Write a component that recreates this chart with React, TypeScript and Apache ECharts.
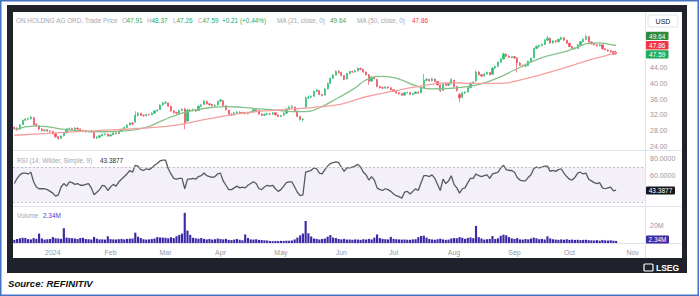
import React, { useEffect, useRef } from 'react';
import * as echarts from 'echarts';

// Category slots (trading days) per month label; last months include empty future slots
const monthLabels = ['Dec', '2024', 'Feb', 'Mar', 'Apr', 'May', 'Jun', 'Jul', 'Aug', 'Sep', 'Oct', 'Nov'];
const monthSlots = [14, 21, 20, 20, 22, 22, 19, 22, 22, 20, 23, 5];

const opens = [
  28.8, 28.6, 28.3, 29.5, 30.6, 30.9, 31.0, 31.3, 29.6, 29.2,
  28.4, 28.0, 28.2, 27.9, 27.8, 27.2, 26.4, 26.0, 26.7, 27.4,
  28.3, 28.5, 28.3, 28.6, 28.4, 28.0, 27.9, 27.7, 27.8, 27.6,
  26.1, 26.3, 26.7, 27.0, 27.1, 26.6, 26.9, 27.4, 27.2, 27.8,
  28.3, 28.8, 29.4, 29.9, 30.2, 31.9, 32.4, 31.9, 31.8, 32.1,
  32.0, 32.4, 33.0, 33.3, 34.5, 35.0, 35.0, 34.2, 33.0, 32.6,
  32.4, 33.1, 33.5, 30.4, 33.2, 33.1, 33.3, 33.1, 34.2, 34.6,
  35.4, 34.8, 34.6, 34.3, 34.5, 35.5, 35.6, 34.3, 33.2, 32.1,
  32.0, 32.5, 32.7, 32.4, 32.6, 32.3, 32.6, 32.8, 33.3, 33.1,
  32.2, 31.9, 32.1, 32.3, 32.2, 32.5, 32.0, 31.6, 31.9, 32.4,
  33.5, 33.9, 34.0, 33.0, 31.6, 30.8, 34.0, 36.3, 36.5, 36.7,
  38.0, 38.2, 37.2, 37.0, 38.6, 40.0, 41.3, 42.1, 43.0, 42.8,
  42.0, 41.1, 42.5, 43.0, 42.9, 43.2, 43.8, 43.6, 42.9, 42.2,
  40.6, 41.6, 41.0, 39.2, 38.9, 38.8, 39.1, 38.9, 38.4, 38.0,
  37.6, 37.4, 37.0, 37.6, 37.7, 37.2, 37.4, 37.8, 37.6, 38.9,
  40.8, 41.0, 40.7, 41.1, 40.5, 39.6, 38.2, 39.9, 39.5, 39.9,
  40.8, 39.2, 37.2, 36.5, 37.6, 37.8, 38.9, 40.1, 40.6, 42.9,
  42.2, 41.9, 42.4, 42.8, 42.3, 43.9, 44.3, 45.4, 46.2, 47.4,
  46.9, 46.6, 46.8, 46.5, 45.2, 44.6, 44.4, 44.5, 45.6, 46.5,
  48.9, 49.4, 49.6, 49.9, 51.0, 51.5, 50.3, 50.8, 50.6, 51.2,
  51.6, 51.0, 50.2, 49.4, 48.8, 48.9, 49.8, 50.6, 51.2, 51.9,
  50.5, 50.1, 49.8, 49.6, 49.8, 48.8, 48.5, 48.3, 48.1, 47.91,
];

const closes = [
  28.5, 28.2, 29.4, 30.6, 30.9, 31.0, 31.4, 29.5, 29.3, 28.4,
  28.0, 28.1, 27.9, 27.8, 27.2, 26.4, 25.9, 26.6, 27.4, 28.4,
  28.5, 28.3, 28.6, 28.4, 28.0, 27.9, 27.7, 27.8, 27.6, 26.1,
  26.3, 26.7, 27.0, 27.1, 26.6, 26.9, 27.4, 27.2, 27.8, 28.3,
  28.8, 29.4, 29.9, 29.7, 31.9, 32.4, 31.9, 31.8, 32.1, 32.0,
  32.4, 33.0, 33.2, 34.5, 35.0, 35.1, 34.2, 33.0, 32.6, 32.4,
  33.1, 33.4, 30.0, 33.2, 33.1, 33.3, 33.0, 34.2, 34.5, 35.5,
  34.8, 34.6, 34.3, 34.4, 35.4, 35.8, 34.4, 33.3, 32.1, 32.0,
  32.5, 32.7, 32.4, 32.6, 32.3, 32.6, 32.8, 33.3, 33.1, 32.2,
  31.9, 32.1, 32.3, 32.2, 32.5, 32.0, 31.6, 31.8, 32.4, 33.5,
  33.9, 34.1, 33.0, 31.6, 30.8, 30.9, 36.3, 36.5, 36.6, 38.0,
  38.3, 37.2, 36.9, 38.6, 40.0, 41.3, 42.1, 43.0, 42.8, 42.0,
  41.0, 42.5, 43.0, 42.9, 43.2, 43.8, 43.6, 42.9, 42.2, 40.5,
  41.6, 41.2, 39.2, 38.9, 38.8, 39.1, 38.9, 38.4, 38.0, 37.6,
  37.4, 37.0, 37.6, 37.7, 37.2, 37.4, 37.8, 37.6, 38.8, 40.8,
  41.0, 40.7, 41.1, 40.5, 39.6, 38.1, 39.9, 39.5, 39.9, 41.0,
  39.2, 38.2, 36.3, 37.6, 37.8, 38.9, 40.1, 40.3, 42.9, 42.2,
  41.9, 42.4, 42.8, 42.2, 43.9, 44.3, 45.4, 46.2, 47.5, 46.9,
  46.6, 46.8, 46.5, 45.2, 44.6, 44.4, 44.5, 45.6, 46.4, 48.9,
  49.4, 49.6, 49.9, 51.0, 51.5, 50.3, 50.8, 50.6, 51.2, 51.6,
  51.0, 50.2, 49.4, 48.8, 48.9, 49.8, 50.6, 51.2, 51.9, 50.5,
  50.1, 49.8, 49.6, 49.8, 48.8, 48.5, 48.3, 48.1, 47.38, 47.59,
];

const lows = [
  28.3, 28.0, 28.2, 29.4, 30.4, 30.6, 30.8, 29.3, 29.0, 28.1,
  27.8, 27.7, 27.7, 27.5, 27.0, 26.2, 25.7, 25.9, 26.5, 27.3,
  28.0, 28.0, 28.1, 28.2, 27.8, 27.6, 27.5, 27.5, 27.4, 25.9,
  25.9, 26.2, 26.5, 26.8, 26.4, 26.5, 26.8, 27.0, 27.1, 27.7,
  28.2, 28.7, 29.3, 29.3, 30.0, 31.6, 31.7, 31.5, 31.6, 31.8,
  31.9, 32.3, 32.8, 33.2, 34.3, 34.7, 34.0, 32.8, 32.3, 32.1,
  32.3, 32.9, 28.3, 30.2, 32.8, 32.9, 32.7, 33.0, 34.0, 34.5,
  34.6, 34.3, 34.1, 34.0, 34.4, 35.2, 34.2, 33.1, 31.9, 31.7,
  31.8, 32.3, 32.2, 32.2, 32.1, 32.1, 32.4, 32.7, 32.8, 32.0,
  31.7, 31.7, 31.9, 31.9, 32.0, 31.8, 31.4, 31.4, 31.8, 32.3,
  33.3, 33.6, 32.8, 31.4, 30.5, 30.3, 33.7, 36.0, 36.2, 36.6,
  37.8, 37.0, 36.7, 36.9, 38.5, 39.9, 41.1, 42.0, 42.5, 41.8,
  40.8, 41.0, 42.3, 42.6, 42.7, 43.0, 43.3, 42.7, 42.0, 39.6,
  40.4, 41.0, 39.0, 38.7, 38.5, 38.6, 38.6, 38.2, 37.8, 37.4,
  37.1, 36.8, 36.9, 37.4, 37.0, 37.0, 37.3, 37.4, 37.5, 38.8,
  40.5, 40.4, 40.5, 40.3, 39.4, 37.8, 38.1, 39.3, 39.3, 39.8,
  39.0, 37.9, 35.3, 36.3, 37.3, 37.7, 38.8, 39.9, 40.4, 42.0,
  41.6, 41.7, 42.2, 42.0, 42.2, 43.7, 44.2, 45.2, 46.1, 46.6,
  46.4, 46.4, 46.2, 42.8, 44.4, 44.1, 44.1, 44.4, 45.4, 46.4,
  48.7, 49.1, 49.4, 49.8, 50.8, 50.1, 50.1, 50.3, 50.5, 51.0,
  50.8, 50.0, 49.2, 48.6, 48.5, 48.8, 49.7, 50.4, 51.0, 50.3,
  49.9, 49.6, 49.4, 49.4, 48.6, 48.3, 48.0, 47.8, 47.2, 47.26,
];

const highs = [
  29.0, 28.8, 29.6, 30.8, 31.2, 31.3, 31.7, 31.4, 29.9, 29.3,
  28.6, 28.4, 28.4, 28.1, 27.9, 27.3, 26.5, 26.8, 27.6, 28.6,
  28.8, 28.7, 28.9, 28.8, 28.5, 28.2, 28.1, 28.0, 28.0, 27.7,
  26.6, 26.9, 27.2, 27.3, 27.2, 27.1, 27.6, 27.6, 28.0, 28.5,
  29.0, 29.6, 30.1, 30.2, 32.9, 32.7, 32.5, 32.1, 32.3, 32.3,
  32.7, 33.2, 33.5, 34.7, 35.3, 35.5, 35.1, 34.3, 33.2, 32.8,
  33.3, 33.7, 33.8, 33.6, 33.5, 33.6, 33.5, 34.4, 34.8, 35.8,
  35.6, 35.0, 34.8, 34.7, 35.6, 36.1, 35.7, 34.4, 33.3, 32.4,
  32.7, 33.0, 32.9, 32.8, 32.8, 32.8, 33.0, 33.6, 33.5, 33.2,
  32.4, 32.4, 32.5, 32.5, 32.7, 32.6, 32.1, 32.0, 32.6, 33.7,
  34.3, 34.5, 34.1, 33.1, 31.7, 31.2, 36.6, 36.9, 37.0, 38.2,
  38.6, 38.3, 37.4, 38.8, 40.2, 41.5, 42.4, 43.3, 43.4, 42.9,
  42.1, 42.7, 43.2, 43.3, 43.5, 44.1, 44.0, 43.7, 43.0, 42.3,
  41.8, 41.8, 41.1, 39.4, 39.2, 39.3, 39.3, 39.0, 38.5, 38.1,
  37.8, 37.5, 37.8, 37.9, 37.8, 37.6, 38.0, 38.0, 39.0, 42.4,
  41.4, 41.2, 41.4, 41.2, 40.6, 39.7, 40.1, 40.1, 40.1, 41.3,
  40.9, 39.3, 37.6, 37.9, 38.0, 39.1, 40.3, 40.6, 43.3, 43.1,
  42.4, 42.6, 43.0, 42.9, 44.1, 44.6, 45.6, 46.5, 47.8, 47.6,
  47.1, 47.0, 47.0, 46.6, 45.4, 44.8, 44.8, 45.8, 46.6, 49.1,
  49.7, 49.9, 50.2, 51.3, 52.1, 51.6, 51.0, 51.0, 51.4, 51.9,
  51.8, 51.1, 50.3, 49.5, 49.2, 50.0, 50.8, 51.5, 52.4, 52.0,
  50.7, 50.3, 50.0, 50.1, 49.9, 49.0, 48.7, 48.5, 48.3, 48.37,
];

// Moving averages at sparse trading-day indices
const ma21Idx = [0, 8, 18, 24, 33, 40, 48, 54, 60, 65, 71, 77, 83, 89, 95, 101, 106, 111, 118, 123, 129, 134, 140, 146, 152, 158, 164, 170, 176, 182, 188, 194, 200, 205, 209, 213, 216, 219];
const ma21Val = [28.3, 29.2, 28.3, 27.9, 27.7, 27.9, 28.8, 30.6, 32.2, 33.1, 33.8, 34.1, 33.9, 33.5, 33.2, 32.8, 32.8, 33.8, 36.4, 38.4, 41.2, 41.8, 41.1, 39.4, 38.6, 38.7, 39.1, 39.9, 41.4, 43.4, 45.4, 47.0, 48.0, 49.2, 50.2, 50.3, 50.0, 49.64];
const ma50Idx = [0, 12, 30, 42, 54, 60, 70, 82, 95, 106, 118, 122, 128, 140, 147, 153, 159, 165, 171, 177, 185, 192, 198, 204, 210, 215, 219];
const ma50Val = [26.8, 27.3, 28.0, 28.4, 29.0, 29.5, 30.9, 32.3, 33.2, 33.7, 34.6, 35.3, 36.6, 38.3, 39.2, 39.9, 40.2, 40.0, 40.0, 40.0, 41.0, 42.3, 43.5, 44.8, 46.1, 47.0, 47.86];

const rsi = [
  51, 57, 61, 63, 63, 62, 64, 53, 47, 45,
  45, 45, 44, 42, 40, 36.5, 38, 47, 51, 48,
  53, 52, 50, 51, 49, 49, 50, 51, 46, 38,
  41, 44, 49, 48, 43, 47, 50, 48, 53, 56,
  59, 62, 66, 64, 72, 71, 67, 66, 68, 67,
  69, 72, 74, 77, 78, 78, 68, 62, 57, 56,
  57, 57, 45, 56, 56, 57, 56, 59, 60, 63,
  60, 59, 58, 59, 62, 63, 54, 49, 44, 44,
  46, 48, 46, 47, 46, 49, 51, 53, 51, 45,
  44, 47, 49, 48, 49, 45, 42, 44, 48, 52,
  53, 53, 47, 41, 37, 38, 64, 65, 66, 69,
  68, 63, 62, 67, 71, 74, 75, 76, 75, 70,
  65, 69, 69, 70, 71, 73, 70, 64, 61, 55,
  59, 55, 46, 44, 43, 45, 44, 42, 39, 37,
  36, 34, 41, 42, 39, 42, 45, 43, 52, 60,
  60, 59, 61, 57, 50, 43, 56, 51, 54, 60,
  50, 46, 40, 45, 46, 52, 57, 57, 62, 60,
  59, 60, 61, 57, 62, 63, 64, 69, 72, 67,
  66, 66, 64, 58, 55, 54, 54, 58, 61, 68,
  70, 69, 70, 71, 71, 65, 66, 65, 67, 68,
  63, 59, 56, 55, 58, 63, 64, 62, 63, 56,
  54, 52, 51, 52, 46, 45, 46, 47, 42.5, 43.3877,
];

// Volume in millions
const volumes = [
  3.5, 4.5, 5.2, 5.8, 5.5, 4.3, 4.0, 5.5, 4.6, 10.5,
  5.0, 3.8, 4.2, 4.5, 6.5, 5.3, 5.0, 4.6, 16.5, 6.0,
  5.5, 5.3, 5.0, 4.5, 5.6, 5.8, 4.4, 4.2, 3.9, 6.8,
  4.8, 4.0, 4.1, 3.8, 7.5, 4.3, 4.0, 3.9, 4.2, 4.6,
  4.0, 4.5, 4.8, 5.0, 11.5, 7.0, 5.5, 4.2, 3.8, 4.0,
  4.4, 5.0, 6.5, 6.2, 6.0, 5.8, 5.2, 6.4, 5.5, 7.5,
  9.0, 10.5, 33.5, 13.8, 9.0, 5.8, 5.2, 4.8, 5.5, 4.6,
  4.0, 4.5, 3.8, 4.2, 5.0, 4.4, 4.0, 4.6, 3.5, 3.2,
  3.8, 4.4, 3.6, 3.0, 9.5, 5.5, 4.0, 3.8, 4.2, 3.5,
  3.3, 3.0, 2.8, 2.2, 2.0, 2.3, 2.1, 2.4, 2.2, 2.6,
  2.5, 2.8, 4.0, 6.0, 8.5, 10.5, 24.5, 10.8, 7.2, 5.0,
  4.6, 3.9, 4.5, 5.0, 7.0, 8.8, 6.0, 5.5, 4.5, 4.0,
  4.6, 3.8, 3.9, 3.6, 4.0, 3.8, 3.5, 4.2, 3.8, 4.6,
  4.0, 6.0, 9.5, 5.5, 4.6, 4.2, 4.0, 6.8, 4.5, 4.2,
  4.0, 3.8, 3.9, 3.7, 3.5, 4.0, 4.2, 6.5, 7.8, 8.2,
  6.0, 4.4, 3.9, 3.6, 4.2, 4.8, 4.0, 3.5, 3.8, 5.0,
  5.5, 5.2, 6.5, 5.8, 4.6, 5.6, 6.2, 5.4, 19.0, 6.5,
  5.0, 3.8, 4.2, 4.5, 7.8, 4.5, 5.2, 8.0, 9.3, 8.6,
  6.5, 5.2, 4.6, 5.5, 4.0, 3.8, 4.4, 4.0, 5.0, 6.0,
  5.2, 4.2, 4.6, 3.9, 7.5, 5.0, 4.2, 3.8, 3.5, 4.0,
  3.6, 4.2, 3.5, 3.8, 3.4, 3.6, 3.2, 3.5, 3.6, 3.2,
  3.0, 2.8, 3.2, 2.6, 3.4, 2.9, 2.7, 3.0, 2.6, 2.34,
];

const priceTicksShown = [24, 28, 32, 36, 40, 44];
const rsiTicksShown = [60, 80];
const volTicksShown = [20];

const FONT = '"Liberation Sans", Arial, sans-serif';
const GRAY = '#a3a6af';
const UP = '#2ebd73';
const DOWN = '#f04e5e';
const GREEN_TXT = '#22ab5c';
const VOL = '#3b2aa5';
const HDR = 6.4;

function buildOption() {
  const categories: string[] = [];
  monthLabels.forEach((m, i) => {
    for (let d = 0; d < monthSlots[i]; d++) categories.push(m + '|' + d);
  });
  const candleData = opens.map((o, i) => [o, closes[i], lows[i], highs[i]]);
  const ma21Data = ma21Idx.map((x, i) => [x, ma21Val[i]]);
  const ma50Data = ma50Idx.map((x, i) => [x, ma50Val[i]]);

  const t = (x: number, y: number, text: string, fill: string, extra: any = {}) => ({
    type: 'text', x, y, z: 60,
    style: { text, fill, fontSize: HDR, fontFamily: FONT, verticalAlign: 'middle', align: 'left', ...extra },
  });
  const tag = (x: number, y: number, w: number, h: number, fill: string, text: string) => ({
    type: 'group', z: 70,
    children: [
      { type: 'rect', z: 70, shape: { x, y, width: w, height: h, r: 1 }, style: { fill } },
      { type: 'text', z: 71, x: x + w / 2, y: y + h / 2 + 0.3, style: { text, fill: '#ffffff', fontSize: 6.5, fontFamily: FONT, align: 'center', verticalAlign: 'middle' } },
    ],
  });
  const hline = (y: number, x1: number, x2: number) => ({
    type: 'line', z: 1, shape: { x1, y1: y, x2, y2: y }, style: { stroke: '#e0e3eb', lineWidth: 1 },
  });

  const xAxisBase = (i: number) => ({
    type: 'category', gridIndex: i, data: categories, boundaryGap: true,
    axisLine: { show: false }, axisTick: { show: false }, splitLine: { show: false },
    axisLabel: i === 2 ? {
      show: true, color: '#9598a1', fontSize: 7, fontFamily: FONT, margin: 6,
      interval: (idx: number, val: string) => {
        const p = String(val).split('|');
        return p[1] === '0' && p[0] !== 'Dec';
      },
      formatter: (val: string) => String(val).split('|')[0],
    } : { show: false },
  });
  const yLabel = (shown: number[], fmt: (v: number) => string) => ({
    show: true, color: '#9598a1', fontSize: 7, fontFamily: FONT, margin: 5,
    formatter: (v: number) => (shown.indexOf(Math.round(v * 100) / 100) >= 0 ? fmt(v) : ''),
  });

  return {
    animation: false,
    backgroundColor: '#ffffff',
    textStyle: { fontFamily: FONT },
    grid: [
      { left: 13, top: 12, width: 632, height: 150 },
      { left: 13, top: 151, width: 632, height: 59.5 },
      { left: 13, top: 207, width: 632, height: 36 },
    ],
    xAxis: [xAxisBase(0), xAxisBase(1), xAxisBase(2)],
    yAxis: [
      { type: 'value', gridIndex: 0, position: 'right', min: 20, max: 58.16, interval: 4, axisLine: { show: false }, axisTick: { show: false }, splitLine: { show: false }, axisLabel: yLabel(priceTicksShown, (v) => v.toFixed(2)) },
      { type: 'value', gridIndex: 1, position: 'right', min: 20, max: 88.4, interval: 20, axisLine: { show: false }, axisTick: { show: false }, splitLine: { show: false }, axisLabel: yLabel(rsiTicksShown, (v) => v.toFixed(4)) },
      { type: 'value', gridIndex: 2, position: 'right', min: 0, max: 40, interval: 20, axisLine: { show: false }, axisTick: { show: false }, splitLine: { show: false }, axisLabel: yLabel(volTicksShown, (v) => v + 'M') },
    ],
    series: [
      {
        type: 'candlestick', name: 'Price', xAxisIndex: 0, yAxisIndex: 0, data: candleData,
        barWidth: 1.7, z: 3,
        itemStyle: { color: UP, color0: DOWN, borderColor: UP, borderColor0: DOWN, borderWidth: 0.7 },
      },
      {
        type: 'line', name: 'MA21', xAxisIndex: 0, yAxisIndex: 0, data: ma21Data, smooth: 0.5,
        symbol: 'none', z: 4, lineStyle: { color: '#86c08a', width: 1.3 },
      },
      {
        type: 'line', name: 'MA50', xAxisIndex: 0, yAxisIndex: 0, data: ma50Data, smooth: 0.5,
        symbol: 'none', z: 4, lineStyle: { color: '#f5a0a0', width: 1.3 },
      },
      {
        type: 'line', name: 'RSI', xAxisIndex: 1, yAxisIndex: 1, data: rsi, symbol: 'none', z: 4,
        lineStyle: { color: '#5a5a5e', width: 1.3 },
        markArea: { silent: true, itemStyle: { color: 'rgba(126,87,194,0.09)' }, data: [[{ yAxis: 30 }, { yAxis: 70 }]] },
        markLine: {
          silent: true, symbol: 'none', label: { show: false },
          lineStyle: { type: [2, 2], color: '#b5b5bd', width: 0.8 },
          data: [{ yAxis: 70 }, { yAxis: 30 }],
        },
      },
      {
        type: 'bar', name: 'Volume', xAxisIndex: 2, yAxisIndex: 2, data: volumes, barWidth: '78%', z: 3,
        itemStyle: { color: VOL },
      },
    ],
    graphic: [
      { type: 'rect', z: -20, shape: { x: 0.75, y: 0.75, width: 697.5, height: 294.5 }, style: { fill: '#ffffff', stroke: '#4472c4', lineWidth: 1.5 } },
      { type: 'rect', z: -19, shape: { x: 7, y: 5, width: 680, height: 268 }, style: { fill: '#1f222b' } },
      { type: 'rect', z: -18, shape: { x: 13, y: 12, width: 669, height: 246 }, style: { fill: '#ffffff' } },
      { type: 'line', z: 1, shape: { x1: 645.5, y1: 12, x2: 645.5, y2: 258 }, style: { stroke: '#e0e3eb', lineWidth: 1 } },
      hline(150.5, 13, 682),
      hline(206.5, 13, 682),
      hline(243.5, 13, 682),
      // header
      t(16, 20, 'ON HOLDNG AG ORD, Trade Price', GRAY),
      t(122, 20, 'O', GRAY), t(126.5, 20, '47.91', GREEN_TXT),
      t(147, 20, 'H', GRAY), t(151.5, 20, '48.37', GREEN_TXT),
      t(173, 20, 'L', GRAY), t(176.5, 20, '47.26', GREEN_TXT),
      t(198, 20, 'C', GRAY), t(202.5, 20, '47.59', GREEN_TXT),
      t(222, 20, '+0.21 (+0.44%)', GREEN_TXT),
      t(277, 20, 'MA (21, close, 0)', GRAY), t(330, 20, '49.64', '#4c9f50'),
      t(357, 20, 'MA (50, close, 0)', GRAY), t(412, 20, '47.86', '#f23645'),
      // pane labels
      t(17, 160, 'RSI (14, Wilder, Simple, 9)', GRAY), t(100, 160, '43.3877', '#2a2e39'),
      t(17, 215, 'Volume', GRAY), t(43, 215, '2.34M', '#4b3cc0'),
      // USD box
      { type: 'rect', z: 70, shape: { x: 648, y: 15, width: 30, height: 12, r: 2 }, style: { fill: '#ffffff', stroke: '#e0e3eb', lineWidth: 1 } },
      { type: 'text', z: 71, x: 663, y: 21.3, style: { text: 'USD', fill: '#131722', fontSize: 7, fontFamily: FONT, align: 'center', verticalAlign: 'middle' } },
      // price tags
      tag(646, 31.7, 22.5, 8.4, '#2f8a3c', '49.64'),
      tag(646, 41, 22.5, 8.4, '#f23645', '47.86'),
      tag(646, 50.2, 22.5, 8.4, '#22ab5c', '47.59'),
      tag(646, 186.5, 29, 8, '#131722', '43.3877'),
      tag(646, 235.6, 23, 7.8, VOL, '2.34M'),
      // LSEG logo
      { type: 'rect', z: 60, shape: { x: 644, y: 264, width: 9, height: 7, r: 1 }, style: { fill: 'none', stroke: '#ffffff', lineWidth: 1.2 } },
      { type: 'text', z: 60, x: 656, y: 268, style: { text: 'LSEG', fill: '#ffffff', fontSize: 8.5, fontWeight: 'bold', fontFamily: FONT, verticalAlign: 'middle' } },
      // source
      { type: 'text', z: 60, x: 8, y: 283.5, style: { text: 'Source: REFINITIV', fill: '#111111', fontSize: 9.6, fontWeight: 'bold', fontStyle: 'italic', fontFamily: FONT, verticalAlign: 'middle' } },
    ],
  };
}

export default function App() {
  const ref = useRef<HTMLDivElement | null>(null);
  useEffect(() => {
    if (!ref.current) return;
    const chart = echarts.init(ref.current, undefined, { renderer: 'svg' });
    chart.setOption(buildOption() as any);
    return () => chart.dispose();
  }, []);
  return <div ref={ref} style={{ position: 'absolute', left: 0, top: 0, width: 700, height: 296 }} />;
}
